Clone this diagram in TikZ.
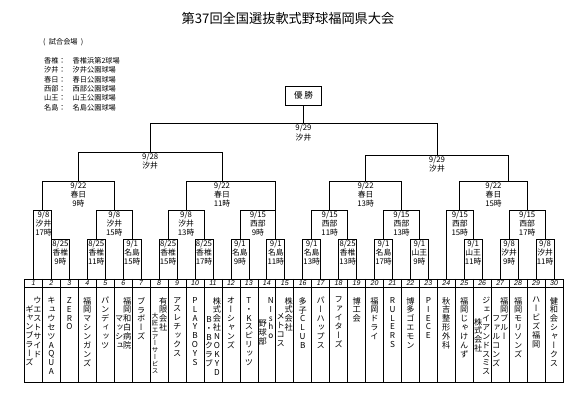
\documentclass[tikz,border=0pt]{standalone}
\usepackage{fontspec}
\setmainfont{Noto Sans CJK JP}
\newfontfamily\jp{Noto Sans CJK JP}
\newfontfamily\vjp[RawFeature=+vert]{Noto Sans CJK JP}
\newfontfamily\numf{Liberation Sans}
\makeatletter
\newcommand\vcol[2][8.9pt]{\vbox{\baselineskip=#1\lineskiplimit=-50pt\lineskip=0pt\vc@loop#2\@nil}}
\def\vc@loop#1{\ifx#1\@nil\else\hbox to 1em{\hss#1\hss}\expandafter\vc@loop\fi}
\makeatother
\tikzset{
  br/.style={line width=0.75pt, black},
  grid/.style={line width=0.65pt, black},
  lbl/.style={anchor=north, inner sep=0pt, align=center, font=\jp\fontsize{7.8}{9.2}\selectfont},
  venue/.style={anchor=west, inner sep=0pt, font=\jp\fontsize{7.2}{8}\selectfont},
  num/.style={inner sep=0pt, font=\numf\itshape\fontsize{7}{8}\selectfont},
  team/.style={anchor=north, inner sep=0pt, font=\vjp\fontsize{8.2}{8.9}\selectfont},
  steam/.style={anchor=north, inner sep=0pt, font=\vjp\fontsize{6.5}{7}\selectfont},
}
% name, xl, xr, ytop, yl-bottom, yr-bottom, label-x, label
\newcommand\mt[8]{%
  \coordinate (#1l) at (#2,#5);
  \coordinate (#1r) at (#3,#6);
  \coordinate (#1t) at (#3,#4);
  \draw[br] (#1l) |- (#1t) -- (#1r);
  \node[lbl] (#1) at (#7,#4+1) {#8};
}
\begin{document}
\begin{tikzpicture}[x=1pt,y=-1pt]
\useasboundingbox (0,0) rectangle (586,411);
\fill[white] (0,0) rectangle (586,411);
% title
\node[inner sep=0pt, font=\jp\fontsize{13.2}{14}\selectfont] (title) at (288,18) {第37回全国選抜軟式野球福岡県大会};
% venues
\node[venue] (v0) at (43,42.5) {(\ \ 試合会場\ \ )};
\node[venue] (v1a) at (44,61) {香椎：};\node[venue] (v1b) at (72.5,61) {香椎浜第2球場};
\node[venue] (v2a) at (44,70.3) {汐井：};\node[venue] (v2b) at (72.5,70.3) {汐井公園球場};
\node[venue] (v3a) at (44,79.6) {春日：};\node[venue] (v3b) at (72.5,79.6) {春日公園球場};
\node[venue] (v4a) at (44,88.9) {西部：};\node[venue] (v4b) at (72.5,88.9) {西部公園球場};
\node[venue] (v5a) at (44,98.2) {山王：};\node[venue] (v5b) at (72.5,98.2) {山王公園球場};
\node[venue] (v6a) at (44,107.5) {名島：};\node[venue] (v6b) at (72.5,107.5) {名島公園球場};
% champion box
\node[draw, line width=0.75pt, minimum width=36pt, minimum height=19pt, inner sep=0pt, font=\jp\fontsize{8.5}{9}\selectfont] (champ) at (303.5,95.5) {優\ 勝};
% grid of numbers and names
\draw[grid] (24.5,279) rectangle (563,382);
\draw[grid] (24.5,287) -- (563,287);
\foreach \i in {1,...,29} \draw[grid] ({24.5+\i*17.95},279) -- ++(0,103);
\foreach \i in {1,...,30} \node[num] (k\i) at ({24.5+(\i-0.5)*17.95},283.2) {\i};
% level 1 (top 239)
\mt{a1}{51.4}{69.4}{239}{279}{279}{60.4}{8/25\\香椎\\9時}
\mt{a2}{87.3}{105.3}{239}{279}{279}{96.3}{8/25\\香椎\\11時}
\mt{a3}{123.2}{141.2}{239}{279}{279}{132.2}{9/1\\名島\\15時}
\mt{a4}{159.1}{177.1}{239}{279}{279}{168.1}{8/25\\香椎\\15時}
\mt{a5}{195.0}{213.0}{239}{279}{279}{204.0}{8/25\\香椎\\17時}
\mt{a6}{230.9}{248.9}{239}{279}{279}{239.9}{9/1\\名島\\9時}
\mt{a7}{266.8}{284.8}{239}{279}{279}{275.8}{9/1\\名島\\11時}
\mt{a8}{302.7}{320.7}{239}{279}{279}{311.7}{9/1\\名島\\13時}
\mt{a9}{338.6}{356.6}{239}{279}{279}{347.6}{8/25\\香椎\\13時}
\mt{a10}{374.5}{392.5}{239}{279}{279}{383.5}{9/1\\名島\\17時}
\mt{a11}{410.4}{428.4}{239}{279}{279}{419.4}{9/1\\山王\\9時}
\mt{a12}{464.3}{482.2}{239}{279}{279}{473.2}{9/1\\山王\\11時}
\mt{a13}{500.2}{518.1}{239}{279}{279}{509.2}{9/8\\汐井\\9時}
\mt{a14}{536.1}{554.0}{239}{279}{279}{545.1}{9/8\\汐井\\11時}
% level 2 (top 210)
\mt{b1}{33.5}{51.4}{210}{279}{239}{43.5}{9/8\\汐井\\17時}
\mt{b2}{96.3}{132.2}{210}{239}{239}{114.3}{9/8\\汐井\\15時}
\mt{b3}{168.1}{204.0}{210}{239}{239}{186.1}{9/8\\汐井\\13時}
\mt{b4}{239.9}{275.8}{210}{239}{239}{257.9}{9/15\\西部\\9時}
\mt{b5}{311.7}{347.6}{210}{239}{239}{329.7}{9/15\\西部\\11時}
\mt{b6}{383.5}{419.4}{210}{239}{239}{401.5}{9/15\\西部\\13時}
\mt{b7}{446.3}{473.2}{210}{279}{239}{459.8}{9/15\\西部\\15時}
\mt{b8}{509.2}{545.1}{210}{239}{239}{527.2}{9/15\\西部\\17時}
% level 3 (top 181)
\mt{c1}{42.5}{114.3}{181}{210}{210}{78.4}{9/22\\春日\\9時}
\mt{c2}{186.1}{275.8}{181}{210}{210}{222.0}{9/22\\春日\\11時}
\mt{c3}{329.7}{401.5}{181}{210}{210}{365.6}{9/22\\春日\\13時}
\mt{c4}{459.8}{527.2}{181}{210}{210}{493.5}{9/22\\春日\\15時}
% level 4
\mt{d1}{78.4}{222.0}{152}{181}{181}{150.2}{9/28\\汐井}
\mt{d2}{365.6}{508.0}{155}{181}{181}{437.0}{9/29\\汐井}
% final
\mt{f}{150.2}{437.0}{123.5}{152}{155}{303.5}{9/29\\汐井}
\draw[br] (champ.south) -- (303.5,123.5);
% team names
\node[team] (n1r) at (37.5,297) {\vcol{ウエストサイド}};
\node[team] (n1l) at (29.5,305) {\vcol{ギャンブラーズ}};
\node[team] (n2) at (51.4,297) {\vcol{キュウセツAQUA}};
\node[team] (n3) at (69.4,297) {\vcol{ZERO}};
\node[team] (n4) at (87.3,297) {\vcol{福岡マシンガンズ}};
\node[team] (n5) at (105.3,297) {\vcol{パンディッツ}};
\node[team] (n6r) at (127.2,297) {\vcol{福岡和白病院}};
\node[team] (n6l) at (119.2,316) {\vcol{マッシュ}};
\node[team] (n7) at (141.2,297) {\vcol{ブラボーズ}};
\node[team] (n8r) at (163.1,297) {\vcol{有限会社}};
\node[steam] (n8l) at (155.1,313) {\vcol[6.8pt]{大匠エアーサービス}};
\node[team] (n9) at (177.1,297) {\vcol{アスレチックス}};
\node[team] (n10) at (195.0,297) {\vcol{PLAYBOYS}};
\node[team] (n11r) at (217.0,297) {\vcol{株式会社NOKYD}};
\node[team] (n11l) at (209.0,316) {\vcol{B・Bクラブ}};
\node[team] (n12) at (230.9,297) {\vcol{オーシャンズ}};
\node[team] (n13) at (248.9,297) {\vcol{T・Kスピリッツ}};
\node[team] (n14r) at (270.8,297) {\vcol{NIsho}};
\node[team] (n14l) at (262.8,320) {\vcol{野球部}};
\node[team] (n15r) at (288.8,297) {\vcol{株式会社}};
\node[team] (n15l) at (280.8,313) {\vcol{メトコス}};
\node[team] (n16) at (302.7,297) {\vcol{多子CLUB}};
\node[team] (n17) at (320.7,297) {\vcol{パーハップス}};
\node[team] (n18) at (338.6,297) {\vcol{ファイターズ}};
\node[team] (n19) at (356.6,297) {\vcol{博工会}};
\node[team] (n20) at (374.5,297) {\vcol{福岡ドライ}};
\node[team] (n21) at (392.5,297) {\vcol{RULERS}};
\node[team] (n22) at (410.4,297) {\vcol{博多ゴエモン}};
\node[team] (n23) at (428.4,297) {\vcol{PIECE}};
\node[team] (n24) at (446.3,297) {\vcol{秋吉整形外科}};
\node[team] (n25) at (464.3,297) {\vcol{福岡じゃけんず}};
\node[team] (n26r) at (486.2,297) {\vcol{ジェイアンドスミス}};
\node[team] (n26l) at (478.2,318) {\vcol{株式会社}};
\node[team] (n27r) at (504.2,297) {\vcol{福岡ブルー}};
\node[team] (n27l) at (496.2,316) {\vcol{ファルコンズ}};
\node[team] (n28) at (518.1,297) {\vcol{福岡モリソンズ}};
\node[team] (n29) at (536.1,297) {\vcol{ハービズ福岡}};
\node[team] (n30) at (554.0,297) {\vcol{健和会シャークス}};
\end{tikzpicture}
\end{document}
